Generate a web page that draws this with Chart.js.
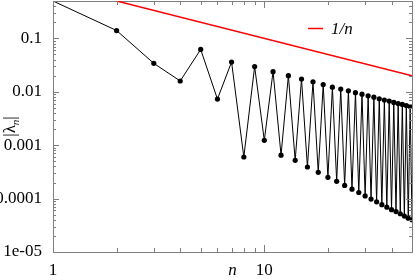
<!DOCTYPE html>
<html>
<head>
<meta charset="utf-8">
<script src="https://cdn.jsdelivr.net/npm/chart.js@4/dist/chart.umd.min.js"></script>
<style>
  html, body { margin: 0; padding: 0; background: #fff; }
  #wrap { width: 415px; height: 280px; }
</style>
</head>
<body>
<div id="wrap"><canvas id="lambdaChart"></canvas></div>
<script>
// n values and |lambda_n|
const nValues = [
  1, 2, 3, 4, 5, 6, 7, 8, 9, 10,
  11, 12, 13, 14, 15, 16, 17, 18, 19, 20,
  21, 22, 23, 24, 25, 26, 27, 28, 29, 30,
  31, 32, 33, 34, 35, 36, 37, 38, 39, 40,
  41, 42, 43, 44, 45, 46, 47, 48, 49, 50,
];
const lambdaValues = [
  0.5, 0.14, 0.034, 0.0159, 0.062, 0.0073, 0.036, 0.0006, 0.0296, 0.00123,
  0.0238, 0.00065, 0.020, 0.00052, 0.0173, 0.00039, 0.0154, 0.00031, 0.0136, 0.00025,
  0.0122, 0.00021, 0.0112, 0.000176, 0.0104, 0.00015, 0.0096, 0.00013, 0.0090, 0.000112,
  0.0084, 0.000098, 0.0079, 0.000087, 0.0074, 0.000077, 0.0070, 0.000069, 0.0067, 0.000062,
  0.0063, 0.000057, 0.0060, 0.000052, 0.0058, 0.000047, 0.0055, 0.000043, 0.0053, 0.000040,
];
// reference line 1/n (straight on log-log, so the two ends are enough)
const refN = [2, 50];
const refValues = [0.5, 0.02];

const xTickValues = [1, 10];
const xTickLabels = ["1", "10"];
const yTickValues = [1e-5, 1e-4, 1e-3, 1e-2, 1e-1];
const yTickLabels = ["1e-05", "0.0001", "0.001", "0.01", "0.1"];

const LAMBDA = "\u03bb";
const AXIS_GRAY = "#7f7f7f";

Chart.defaults.font.family = "Liberation Serif";
Chart.defaults.font.size = 17;
Chart.defaults.color = "#000";

// small inward minor/major ticks on all four sides, like the original plot
const frameTicks = {
  id: "frameTicks",
  afterDraw(chart) {
    const ctx = chart.ctx;
    const a = chart.chartArea;
    const x = chart.scales.x;
    const y = chart.scales.y;
    ctx.save();
    ctx.fillStyle = AXIS_GRAY;
    const top = Math.round(a.top), bottom = Math.round(a.bottom);
    const left = Math.round(a.left), right = Math.round(a.right);
    for (const d of [1, 10]) {
      for (let m = 1; m <= 9; m++) {
        const v = d * m;
        if (v > 50) continue;
        const px = Math.round(x.getPixelForValue(v));
        const len = m === 1 ? 7 : 4;
        ctx.fillRect(px, bottom - len, 1, len);
        ctx.fillRect(px, top, 1, len);
      }
    }
    for (const d of yTickValues) {
      for (let m = 1; m <= 9; m++) {
        const v = d * m;
        if (v > 0.5001) continue;
        const py = Math.round(y.getPixelForValue(v));
        const len = m === 1 ? 6 : 3;
        ctx.fillRect(left, py, len, 1);
        ctx.fillRect(right - len, py, len, 1);
      }
    }

    // legend entry for the red line
    ctx.strokeStyle = "#ff0000";
    ctx.lineWidth = 1.5;
    ctx.beginPath();
    ctx.moveTo(308, 28.5);
    ctx.lineTo(323, 28.5);
    ctx.stroke();
    ctx.fillStyle = "#000";
    ctx.font = "italic 17px Liberation Serif";
    ctx.textBaseline = "alphabetic";
    ctx.textAlign = "left";
    ctx.fillText("1/n", 331, 34);

    // x title
    ctx.textAlign = "center";
    ctx.fillText("n", (a.left + a.right) / 2, 275);

    // y title |lambda_n|, rotated
    ctx.translate(15, (a.top + a.bottom) / 2);
    ctx.rotate(-Math.PI / 2);
    ctx.textAlign = "left";
    ctx.font = "17px Liberation Serif";
    const w1 = ctx.measureText("|" + LAMBDA).width;
    ctx.font = "italic 11px Liberation Serif";
    const w2 = ctx.measureText("n").width;
    ctx.font = "17px Liberation Serif";
    const w3 = ctx.measureText("|").width;
    let cx = -(w1 + w2 + w3) / 2;
    ctx.fillText("|" + LAMBDA, cx, 0);
    cx += w1;
    ctx.font = "italic 11px Liberation Serif";
    ctx.fillText("n", cx, 4);
    cx += w2;
    ctx.font = "17px Liberation Serif";
    ctx.fillText("|", cx, 0);
    ctx.restore();
  },
};

const hiddenAxis = (pos, type, min, max) => ({
  type: type,
  position: pos,
  min: min,
  max: max,
  grid: { display: false },
  border: { display: true, color: AXIS_GRAY, width: 1 },
  ticks: { display: false },
  afterFit: (s) => {
    if (pos === "top") s.height = 0; else s.width = 0;
    s.paddingTop = 0; s.paddingBottom = 0; s.paddingLeft = 0; s.paddingRight = 0;
  },
});

new Chart(document.getElementById("lambdaChart"), {
  type: "line",
  data: {
    datasets: [
      {
        label: "|" + LAMBDA + "n|",
        data: nValues.map((n, i) => ({ x: n, y: lambdaValues[i] })),
        borderColor: "#000",
        backgroundColor: "#000",
        borderWidth: 1,
        pointRadius: (c) => (c.dataIndex === 0 ? 0 : 2.6),
        pointBorderWidth: 0,
        tension: 0,
      },
      {
        label: "1/n",
        data: refN.map((n, i) => ({ x: n, y: refValues[i] })),
        borderColor: "#ff0000",
        borderWidth: 1.5,
        pointRadius: 0,
      },
    ],
  },
  options: {
    responsive: true,
    maintainAspectRatio: false,
    animation: false,
    layout: { autoPadding: false, padding: { top: 1, right: 3, left: 0, bottom: 0 } },
    plugins: {
      legend: { display: false },
      tooltip: { enabled: false },
    },
    scales: {
      x: {
        type: "logarithmic",
        min: 1,
        max: 50,
        afterBuildTicks: (s) => { s.ticks = xTickValues.map((v) => ({ value: v })); },
        afterFit: (s) => { s.height = 28; s.paddingLeft = 0; s.paddingRight = 0; },
        grid: { display: false },
        border: { display: true, color: AXIS_GRAY, width: 1 },
        ticks: {
          callback: (v, i) => xTickLabels[i],
          color: "#000",
          font: { family: "Liberation Serif", size: 17 },
          padding: 0,
          maxRotation: 0,
          autoSkip: false,
        },
      },
      y: {
        type: "logarithmic",
        min: 1e-5,
        max: 0.5,
        afterBuildTicks: (s) => { s.ticks = yTickValues.map((v) => ({ value: v })); },
        afterFit: (s) => { s.width = 53; s.paddingTop = 0; s.paddingBottom = 0; },
        grid: { display: false },
        border: { display: true, color: AXIS_GRAY, width: 1 },
        ticks: {
          callback: (v, i) => yTickLabels[i],
          color: "#000",
          font: { family: "Liberation Serif", size: 17 },
          padding: 3,
          autoSkip: false,
        },
      },
      xTop: hiddenAxis("top", "logarithmic", 1, 50),
      yRight: hiddenAxis("right", "logarithmic", 1e-5, 0.5),
    },
  },
  plugins: [frameTicks],
});
</script>
</body>
</html>
